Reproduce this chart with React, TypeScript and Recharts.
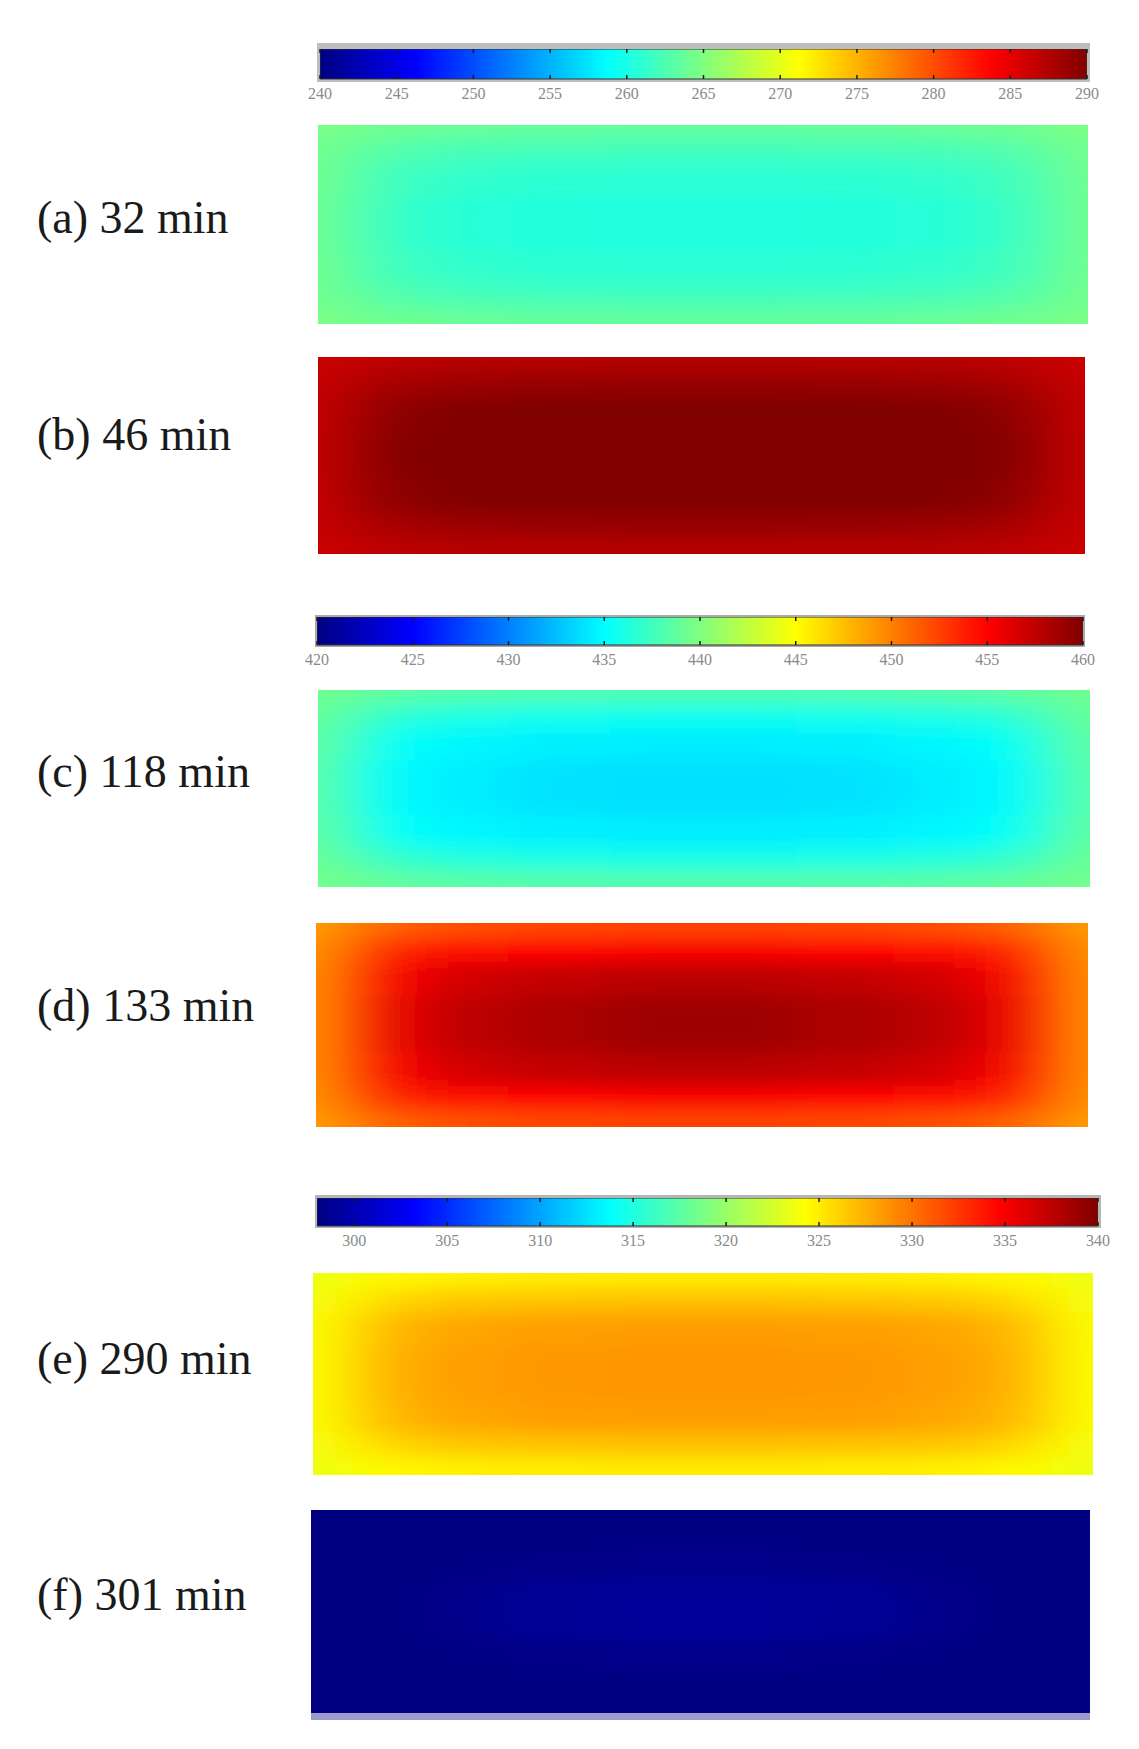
import React from 'react'
import { ScatterChart, Scatter, XAxis, YAxis, ComposedChart, Bar } from 'recharts'

// colour bar scales (K)
const barTicks1 = [240, 245, 250, 255, 260, 265, 270, 275, 280, 285, 290]
const barDomain1: [number, number] = [240, 290]
const barTicks2 = [420, 425, 430, 435, 440, 445, 450, 455, 460]
const barDomain2: [number, number] = [420, 460]
const barTicks3 = [300, 305, 310, 315, 320, 325, 330, 335, 340]
const barDomain3: [number, number] = [298, 340]

const panelLabels = ['(a) 32 min', '(b) 46 min', '(c) 118 min', '(d) 133 min', '(e) 290 min', '(f) 301 min']

// sampling grid (fraction of plate length / height), finer near the walls
const colEdges = [0, 0.03, 0.08, 0.15, 0.25, 0.38, 0.62, 0.75, 0.85, 0.92, 0.97, 1]
const rowEdges = [0, 0.08, 0.2, 0.36, 0.64, 0.8, 0.92, 1]

// temperature fields, 7 rows x 11 columns
const temp32 = [
  [264.7, 264.4, 264.1, 263.8, 263.6, 263.5, 263.6, 263.8, 264.1, 264.4, 264.7],
  [264.4, 263.4, 262.6, 262.2, 262.0, 261.9, 262.0, 262.2, 262.6, 263.4, 264.4],
  [264.3, 262.9, 261.8, 261.2, 260.9, 260.8, 260.9, 261.2, 261.8, 262.9, 264.3],
  [264.2, 262.7, 261.4, 260.7, 260.4, 260.3, 260.4, 260.7, 261.4, 262.7, 264.2],
  [264.3, 262.9, 261.8, 261.2, 260.9, 260.8, 260.9, 261.2, 261.8, 262.9, 264.3],
  [264.4, 263.4, 262.6, 262.2, 262.0, 261.9, 262.0, 262.2, 262.6, 263.4, 264.4],
  [264.7, 264.4, 264.1, 263.8, 263.6, 263.5, 263.6, 263.8, 264.1, 264.4, 264.7],
]
const temp46 = [
  [286.3, 286.7, 287.1, 287.3, 287.4, 287.5, 287.4, 287.3, 287.1, 286.7, 286.3],
  [286.5, 287.5, 288.2, 288.6, 288.8, 288.9, 288.8, 288.6, 288.2, 287.5, 286.5],
  [286.6, 288.2, 289.4, 289.9, 290.0, 290.0, 290.0, 289.9, 289.4, 288.2, 286.6],
  [286.7, 288.5, 289.8, 290.0, 290.0, 290.0, 290.0, 290.0, 289.8, 288.5, 286.7],
  [286.6, 288.2, 289.4, 289.9, 290.0, 290.0, 290.0, 289.9, 289.4, 288.2, 286.6],
  [286.5, 287.5, 288.2, 288.6, 288.8, 288.9, 288.8, 288.6, 288.2, 287.5, 286.5],
  [286.3, 286.7, 287.1, 287.3, 287.4, 287.5, 287.4, 287.3, 287.1, 286.7, 286.3],
]
const temp118 = [
  [439.4, 439.0, 438.6, 438.3, 438.1, 438.0, 438.1, 438.3, 438.6, 439.0, 439.4],
  [439.0, 437.8, 436.5, 436.0, 435.7, 435.6, 435.7, 436.0, 436.5, 437.8, 439.0],
  [438.8, 436.8, 435.2, 434.7, 434.4, 434.3, 434.4, 434.7, 435.2, 436.8, 438.8],
  [438.6, 436.3, 434.8, 434.3, 433.9, 433.8, 433.9, 434.3, 434.8, 436.3, 438.6],
  [438.8, 436.8, 435.2, 434.7, 434.4, 434.3, 434.4, 434.7, 435.2, 436.8, 438.8],
  [439.1, 438.0, 436.8, 436.3, 436.0, 435.9, 436.0, 436.3, 436.8, 438.0, 439.1],
  [439.6, 439.2, 438.8, 438.5, 438.3, 438.2, 438.3, 438.5, 438.8, 439.2, 439.6],
]
const temp133 = [
  [448.9, 450.2, 451.3, 451.9, 452.2, 452.4, 452.2, 451.9, 451.3, 450.2, 448.9],
  [449.3, 451.8, 453.9, 454.7, 455.0, 455.2, 455.0, 454.7, 453.9, 451.8, 449.3],
  [449.5, 452.8, 455.4, 456.8, 457.4, 457.7, 457.4, 456.8, 455.4, 452.8, 449.5],
  [449.5, 453.0, 456.0, 457.6, 458.3, 458.8, 458.3, 457.6, 456.0, 453.0, 449.5],
  [449.5, 452.8, 455.4, 456.8, 457.4, 457.7, 457.4, 456.8, 455.4, 452.8, 449.5],
  [449.3, 451.8, 453.9, 454.7, 455.0, 455.2, 455.0, 454.7, 453.9, 451.8, 449.3],
  [448.9, 450.2, 451.3, 451.9, 452.2, 452.4, 452.2, 451.9, 451.3, 450.2, 448.9],
]
const temp290 = [
  [323.4, 324.0, 324.5, 324.8, 324.9, 325.0, 324.9, 324.8, 324.5, 324.0, 323.4],
  [323.8, 325.0, 326.0, 326.5, 326.7, 326.8, 326.7, 326.5, 326.0, 325.0, 323.8],
  [324.0, 325.8, 327.3, 327.9, 328.2, 328.3, 328.2, 327.9, 327.3, 325.8, 324.0],
  [324.0, 326.0, 327.6, 328.2, 328.5, 328.6, 328.5, 328.2, 327.6, 326.0, 324.0],
  [324.0, 325.8, 327.3, 327.9, 328.2, 328.3, 328.2, 327.9, 327.3, 325.8, 324.0],
  [323.8, 325.0, 326.0, 326.5, 326.7, 326.8, 326.7, 326.5, 326.0, 325.0, 323.8],
  [323.4, 324.0, 324.5, 324.8, 324.9, 325.0, 324.9, 324.8, 324.5, 324.0, 323.4],
]
const temp301 = [
  [298.0, 298.0, 298.0, 298.0, 298.0, 298.0, 298.0, 298.0, 298.0, 298.0, 298.0],
  [298.0, 298.0, 298.0, 298.0, 298.0, 298.1, 298.0, 298.0, 298.0, 298.0, 298.0],
  [298.0, 298.0, 298.0, 298.2, 298.4, 298.5, 298.4, 298.2, 298.0, 298.0, 298.0],
  [298.0, 298.0, 298.1, 298.5, 298.9, 299.1, 298.9, 298.5, 298.1, 298.0, 298.0],
  [298.0, 298.0, 298.0, 298.2, 298.4, 298.5, 298.4, 298.2, 298.0, 298.0, 298.0],
  [298.0, 298.0, 298.0, 298.0, 298.0, 298.1, 298.0, 298.0, 298.0, 298.0, 298.0],
  [298.0, 298.0, 298.0, 298.0, 298.0, 298.0, 298.0, 298.0, 298.0, 298.0, 298.0],
]

const clamp = (v: number) => Math.max(0, Math.min(1, v))
function jet(t: number) {
  const r = clamp(Math.min(4 * t - 1.5, -4 * t + 4.5))
  const g = clamp(Math.min(4 * t - 0.5, -4 * t + 3.5))
  const b = clamp(Math.min(4 * t + 0.5, -4 * t + 2.5))
  const h = (v: number) => Math.round(v * 255).toString(16).padStart(2, '0')
  return `#${h(r)}${h(g)}${h(b)}`
}

const EXT = 80 // edge cells are stretched outward so the blur does not fade to white

function HeatPanel({ grid, domain, left, top, width, height }: any) {
  const rows = grid.length
  const cols = grid[0].length
  const data = grid.flatMap((row: number[], r: number) =>
    row.map((v, c) => ({
      x: (colEdges[c] + colEdges[c + 1]) / 2,
      y: (rowEdges[r] + rowEdges[r + 1]) / 2,
      w: colEdges[c + 1] - colEdges[c],
      h: rowEdges[r + 1] - rowEdges[r],
      v,
      r,
      c,
    })),
  )
  const shape = (props: any) => {
    const { cx, cy, payload } = props
    const cw = payload.w * width
    const ch = payload.h * height
    let x0 = cx - cw / 2 - 1
    let x1 = cx + cw / 2 + 1
    let y0 = cy - ch / 2 - 1
    let y1 = cy + ch / 2 + 1
    if (payload.c === 0) x0 -= EXT
    if (payload.c === cols - 1) x1 += EXT
    if (payload.r === 0) y0 -= EXT
    if (payload.r === rows - 1) y1 += EXT
    const t = (payload.v - domain[0]) / (domain[1] - domain[0])
    return <rect x={x0} y={y0} width={x1 - x0} height={y1 - y0} fill={jet(t)} />
  }
  return (
    <div className="heat-wrap" style={{ position: 'absolute', left, top, width, height, overflow: 'hidden' }}>
      <ScatterChart width={width} height={height} margin={{ top: 0, right: 0, bottom: 0, left: 0 }}>
        <XAxis type="number" dataKey="x" domain={[0, 1]} hide />
        <YAxis type="number" dataKey="y" domain={[0, 1]} reversed hide />
        <Scatter data={data} shape={shape} isAnimationActive={false} />
      </ScatterChart>
    </div>
  )
}

function ColorBar({ domain, ticks, left, top, width, barHeight }: any) {
  const tick = (props: any) => {
    const { x, y, payload } = props
    return (
      <g>
        <line x1={x} x2={x} y1={y - barHeight} y2={y - barHeight + 4} stroke="#1a1a1a" strokeWidth={1.5} />
        <line x1={x} x2={x} y1={y - 4} y2={y} stroke="#1a1a1a" strokeWidth={1.5} />
        <text x={x} y={y + 20} textAnchor="middle" fontSize={16} fill="#8a8a8a" fontFamily="Liberation Serif">
          {payload.value}
        </text>
      </g>
    )
  }
  return (
    <div style={{ position: 'absolute', left: left - 30, top }}>
      <ComposedChart
        layout="vertical"
        width={width + 60}
        height={barHeight + 32}
        data={[{ name: 'scale', span: domain }]}
        margin={{ top: 0, right: 30, bottom: 0, left: 30 }}
        barCategoryGap={0}
      >
        <XAxis
          type="number"
          domain={domain}
          ticks={ticks}
          interval={0}
          tick={tick}
          tickLine={false}
          axisLine={false}
          tickSize={0}
          tickMargin={0}
          height={32}
          allowDataOverflow
        />
        <YAxis type="category" dataKey="name" hide />
        <Bar dataKey="span" fill="url(#jetGrad)" stroke="#333" strokeWidth={1} isAnimationActive={false} />
      </ComposedChart>
    </div>
  )
}

const labelStyle = (cy: number): React.CSSProperties => ({
  position: 'absolute',
  left: 37,
  top: cy - 25,
  fontFamily: '"Liberation Serif", serif',
  fontSize: 46,
  lineHeight: '50px',
  color: '#1a1a1a',
  whiteSpace: 'nowrap',
})

export default function App() {
  const jetStops = [0, 0.125, 0.375, 0.625, 0.875, 1]
  return (
    <div style={{ position: 'absolute', left: 0, top: 0, width: 1139, height: 1749, background: '#fff', overflow: 'hidden' }}>
      <style>{`.heat-wrap .recharts-scatter { filter: url(#heatBlur); } .heat-wrap svg { overflow: hidden; }`}</style>
      <svg width={0} height={0} style={{ position: 'absolute' }}>
        <defs>
          <linearGradient id="jetGrad" x1="0" x2="1" y1="0" y2="0">
            {jetStops.map((s) => (
              <stop key={s} offset={s} stopColor={jet(s)} />
            ))}
          </linearGradient>
          <filter id="heatBlur" x="-10%" y="-10%" width="120%" height="120%">
            <feGaussianBlur stdDeviation="26 9" />
          </filter>
        </defs>
      </svg>

      {/* colour bar 1 */}
      <div style={{ position: 'absolute', left: 317, top: 43, width: 773, height: 39, background: '#bdbdbd' }} />
      <ColorBar domain={barDomain1} ticks={barTicks1} left={320} top={49} width={767} barHeight={30} />
      <HeatPanel grid={temp32} domain={barDomain1} left={318} top={125} width={770} height={199} />
      <HeatPanel grid={temp46} domain={barDomain1} left={318} top={357} width={767} height={197} />

      {/* colour bar 2 */}
      <div style={{ position: 'absolute', left: 315, top: 615, width: 770, height: 32, background: '#aaaaaa' }} />
      <ColorBar domain={barDomain2} ticks={barTicks2} left={317} top={617} width={766} barHeight={28} />
      <HeatPanel grid={temp118} domain={barDomain2} left={318} top={690} width={772} height={197} />
      <HeatPanel grid={temp133} domain={barDomain2} left={316} top={923} width={772} height={204} />

      {/* colour bar 3 */}
      <div style={{ position: 'absolute', left: 315, top: 1195, width: 786, height: 33, background: '#b5b5b5' }} />
      <ColorBar domain={barDomain3} ticks={barTicks3} left={317} top={1198} width={781} barHeight={28} />
      <HeatPanel grid={temp290} domain={barDomain3} left={313} top={1273} width={780} height={202} />
      <HeatPanel grid={temp301} domain={barDomain3} left={311} top={1510} width={779} height={203} />
      <div style={{ position: 'absolute', left: 311, top: 1713, width: 779, height: 7, background: '#9a9acd' }} />

      {panelLabels.map((t, i) => (
        <div key={t} style={labelStyle([218, 435, 772, 1006, 1359, 1595][i])}>
          {t}
        </div>
      ))}
    </div>
  )
}
